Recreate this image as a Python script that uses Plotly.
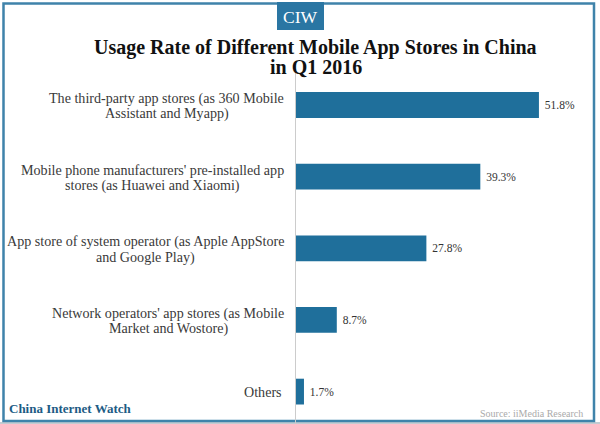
import plotly.graph_objects as go

# ── Data ──────────────────────────────────────────────────────────────────
category_lines = [
    ["The third-party app stores (as 360 Mobile", "Assistant and Myapp)"],
    ["Mobile phone manufacturers' pre-installed app", "stores (as Huawei and Xiaomi)"],
    ["App store of system operator (as Apple AppStore", "and Google Play)"],
    ["Network operators' app stores (as Mobile", "Market and Wostore)"],
    ["Others"],
]
values = [51.8, 39.3, 27.8, 8.7, 1.7]
value_labels = ["51.8%", "39.3%", "27.8%", "8.7%", "1.7%"]

TITLE_LINES = ["Usage Rate of Different Mobile App Stores in China", "in Q1 2016"]
W, H = 600, 424
BLUE = "#1f6f9b"
FRAME = "#3f83aa"
SERIF = "Liberation Serif"
LABEL_RIGHT = 284 - 296           # right edge of the label block, px from the axis
LABEL_WIDTHS = [235, 263, 277, 232, 0]   # rendered width of each label block, px
LINE_STEP = 15.5                  # px between the lines of a category label


def px_x(x):
    return x / W


def px_y(y):
    return 1 - y / H


fig = go.Figure()
fig.add_trace(go.Bar(
    y=list(range(len(values))),
    x=values,
    orientation="h",
    width=0.36,
    marker=dict(color=BLUE, line=dict(width=0)),
    text=value_labels,
    texttemplate="\u00a0%{text}",
    textposition="outside",
    cliponaxis=False,
    textfont=dict(family=SERIF, size=11.5, color="#333"),
    showlegend=False,
))

# category labels are centred line by line and tightly spaced,
# so one annotation per line rather than axis ticks
annotations = []
for i, lines in enumerate(category_lines):
    for j, line in enumerate(lines):
        two_lines = len(lines) > 1
        offset = (j - (len(lines) - 1) / 2) * LINE_STEP + (1 if two_lines else 0)
        annotations.append(dict(
            x=0, y=i, xref="x", yref="y",
            xshift=LABEL_RIGHT - LABEL_WIDTHS[i] / 2,
            yshift=-offset,
            text=line, showarrow=False,
            xanchor="center" if two_lines else "right", yanchor="middle",
            font=dict(family=SERIF, size=14.1, color="#3a3a3a"),
        ))

for line, y in zip(TITLE_LINES, [47, 67]):
    annotations.append(dict(
        x=px_x(316), y=px_y(y), xref="paper", yref="paper", text="<b>" + line + "</b>",
        showarrow=False, xanchor="center", yanchor="middle",
        font=dict(family=SERIF, size=20, color="#111"),
    ))

annotations += [
    dict(x=px_x(300.5), y=px_y(17), xref="paper", yref="paper", text="CIW", showarrow=False,
         xanchor="center", yanchor="middle",
         font=dict(family=SERIF, size=17.5, color="white")),
    dict(x=px_x(7), y=px_y(408), xref="paper", yref="paper", text="<b>China Internet Watch</b>",
         showarrow=False, xanchor="left", yanchor="middle",
         font=dict(family=SERIF, size=13, color="#1d5c85")),
    dict(x=px_x(585), y=px_y(413), xref="paper", yref="paper", text="Source: iiMedia Research",
         showarrow=False, xanchor="right", yanchor="middle",
         font=dict(family=SERIF, size=10, color="#aaaaaa")),
]

shapes = [
    # shadow below the frame
    dict(type="line", xref="paper", yref="paper", x0=0, x1=1, y0=px_y(423), y1=px_y(423),
         line=dict(color="#c4ccd2", width=2)),
    # outer frame
    dict(type="rect", xref="paper", yref="paper", x0=px_x(3.5), x1=px_x(594), y0=px_y(421), y1=px_y(3.5),
         line=dict(color=FRAME, width=2.5), fillcolor="rgba(0,0,0,0)"),
    # logo box
    dict(type="rect", xref="paper", yref="paper", x0=px_x(277), x1=px_x(324), y0=px_y(30), y1=px_y(2),
         line=dict(width=0), fillcolor="#2a76a3"),
    # baseline
    dict(type="line", xref="paper", yref="paper", x0=px_x(295.5), x1=px_x(295.5), y0=px_y(424), y1=px_y(73),
         line=dict(color="#cccccc", width=1)),
]

fig.update_layout(
    width=W,
    height=H,
    margin=dict(l=0, r=0, t=0, b=0),
    paper_bgcolor="white",
    plot_bgcolor="white",
    annotations=annotations,
    shapes=shapes,
    xaxis=dict(domain=[px_x(296), 1], range=[0, 304 / 4.69], visible=False),
    yaxis=dict(range=[(424 - 105) / 71.65, -105 / 71.65], visible=False),
)

# page body has a default 8px margin, the chart has to sit flush in the window
fig.write_html("out.html", config={"displayModeBar": False},
               post_script="document.body.style.margin='0';")
